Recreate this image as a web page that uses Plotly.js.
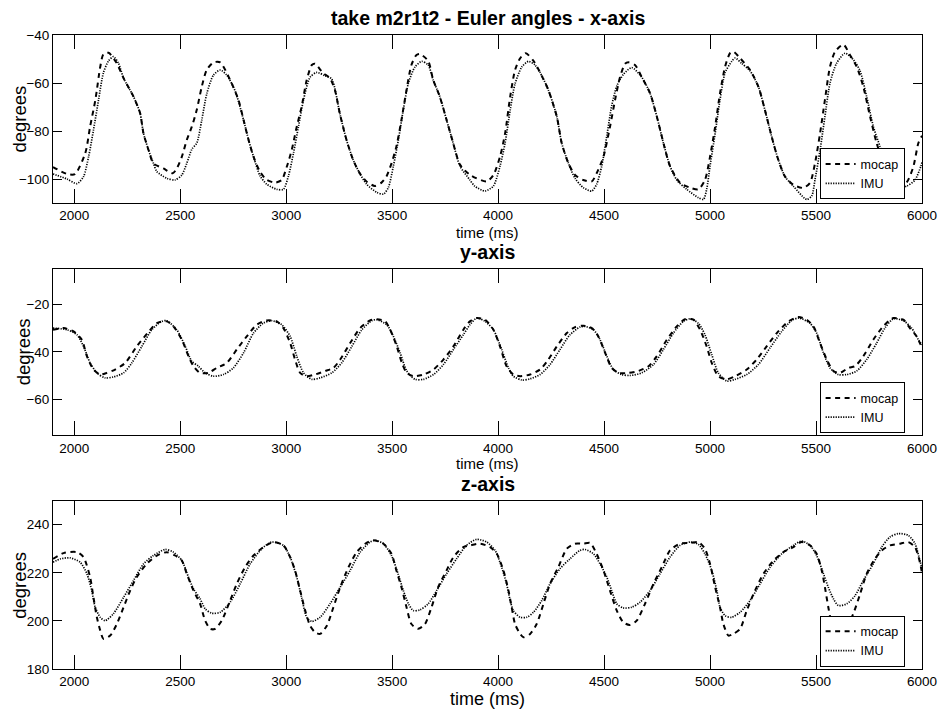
<!DOCTYPE html>
<html>
<head>
<meta charset="utf-8">
<script src="https://cdn.plot.ly/plotly-3.0.1.min.js"></script>
<style>html,body{margin:0;padding:0;background:#fff;}#chart{width:938px;height:713px;}</style>
</head>
<body>
<div id="chart"></div>
<script>
// ---------- data ----------
var seriesNames = ["mocap", "IMU"];
var xTickVals = [2000, 2500, 3000, 3500, 4000, 4500, 5000, 5500, 6000];

// x-axis Euler angle
var xMocapT = [1900,1966,2003,2052,2075,2100,2123,2138,2162,2201,2233,2280,2311,2327,2351,2374,2421,2465,2484,2508,2531,2555,2578,2602,2625,2657,2689,2736,2775,2799,2823,2846,2877,2909,2948,2979,3003,3026,3050,3073,3097,3121,3136,3175,3206,3230,3253,3285,3316,3347,3379,3418,3450,3473,3497,3520,3544,3568,3591,3615,3631,3670,3694,3725,3757,3788,3820,3868,3947,3978,4009,4033,4057,4080,4104,4131,4167,4198,4237,4277,4300,4332,4363,4402,4442,4465,4497,4528,4552,4575,4599,4615,4646,4678,4717,4749,4780,4811,4858,4906,4945,4976,5000,5024,5047,5071,5094,5110,5142,5189,5228,5259,5291,5322,5354,5393,5440,5472,5495,5519,5542,5566,5590,5629,5660,5692,5723,5755,5786,5820,5860,5895,5927,5959,5983,6000];
var xMocapV = [-95,-97.9,-98,-89.3,-78.2,-67,-53.2,-48,-47.4,-51.8,-58,-65.7,-72.6,-81,-88,-93.5,-95.6,-97.6,-95.6,-90.7,-83.8,-78.2,-71.3,-61.5,-54.6,-51.4,-51.4,-58.8,-67,-75.4,-83.8,-90.7,-97,-100.4,-101.5,-100.4,-94.9,-88,-78.2,-69.9,-58.8,-52.5,-52,-55.9,-57.9,-62.9,-72.6,-83.8,-92,-97.6,-101,-102.9,-101.5,-99,-93.5,-86.5,-75.4,-62.9,-52.5,-48.3,-47.9,-50.8,-58.8,-65.7,-75.4,-85,-94,-98.3,-101,-98.3,-90.7,-81,-65.7,-54.6,-49.7,-47.6,-50.8,-55.6,-62.9,-74,-85,-93.5,-98.3,-100.4,-101,-97.6,-90.7,-78.2,-67,-57.6,-52,-51.4,-52.5,-57.6,-64.3,-74,-85,-94.6,-101.5,-103.6,-104.3,-100.4,-90.7,-78.2,-64.3,-53.2,-47.6,-46.9,-49.7,-54.6,-61.5,-71.3,-82.4,-92,-99,-102.4,-103.7,-101.5,-93.5,-81,-67,-53.2,-46.9,-44,-48.3,-53.2,-61.5,-74,-85,-94,-100.5,-103,-101.5,-94.9,-85,-82];
var xImuT = [1900,1966,2013,2044,2068,2091,2115,2138,2162,2185,2209,2233,2280,2311,2327,2351,2374,2390,2437,2476,2508,2531,2555,2579,2602,2626,2657,2689,2720,2760,2799,2823,2846,2877,2909,2956,2987,3011,3035,3058,3082,3113,3145,3184,3215,3253,3285,3316,3347,3380,3428,3459,3482,3506,3530,3553,3577,3608,3640,3670,3694,3725,3757,3788,3820,3867,3890,3939,3978,4009,4033,4057,4080,4112,4143,4174,4198,4237,4277,4300,4332,4363,4402,4442,4465,4489,4513,4536,4560,4591,4631,4678,4717,4749,4780,4811,4843,4890,4945,4969,4984,5000,5024,5047,5071,5102,5118,5149,5189,5228,5259,5291,5322,5354,5393,5456,5480,5495,5519,5542,5566,5597,5637,5676,5708,5739,5770,5802,5840,5880,5927,5967,5995,6000];
var xImuV = [-97.9,-100,-101.9,-99,-90.7,-79.6,-67,-55.7,-50.8,-49,-51.8,-58,-65.7,-72.6,-81,-88,-93.5,-96.9,-99.7,-100.4,-98.3,-93.5,-87.6,-84.9,-75.4,-64.3,-56.7,-54.6,-56.7,-63.5,-75.4,-83.8,-90.7,-98.7,-102.2,-104.3,-104.3,-98.7,-89,-78.2,-67,-57.6,-55.6,-57,-58.3,-72.6,-83.8,-92,-97.6,-102.2,-105.6,-106.3,-103.6,-94.6,-83.5,-71,-60,-53.3,-51,-52.5,-58.8,-65.7,-75.4,-85,-94.6,-100.4,-103,-105,-102.9,-94.6,-85,-71.3,-60.3,-53.3,-51,-52.5,-55.6,-62.9,-74,-85,-93.5,-99.7,-103.6,-105,-102.2,-94.6,-82,-69.5,-61.3,-56.4,-53.6,-57.6,-64.3,-74,-85,-94.6,-100.4,-104.3,-107.8,-108.5,-104.3,-94.6,-81,-67,-55.7,-51,-49.6,-51.8,-55,-61.5,-71.3,-82.4,-92,-99,-103,-108.5,-107,-100.4,-88,-74,-60,-51.8,-47.6,-50.3,-55,-65.7,-78,-86.5,-96,-104,-103,-100.4,-94.6,-93];

// y-axis Euler angle
var yMocapT = [1900,1950,1997,2036,2060,2091,2123,2154,2193,2241,2295,2346,2390,2437,2468,2508,2539,2563,2594,2633,2673,2720,2767,2814,2861,2909,2956,2987,3019,3042,3066,3097,3136,3184,3223,3255,3302,3349,3396,3428,3467,3491,3522,3546,3569,3601,3648,3695,3742,3789,3836,3867,3899,3939,3978,4009,4040,4072,4104,4151,4198,4237,4277,4324,4363,4402,4442,4473,4505,4536,4568,4615,4662,4710,4749,4796,4843,4882,4922,4953,4984,5008,5039,5079,5118,5173,5220,5267,5315,5370,5417,5456,5488,5519,5551,5582,5613,5653,5684,5723,5770,5810,5849,5865,5912,5943,5975,5990,6000];
var yMocapV = [-30.7,-30,-31.4,-34.9,-41.8,-47.4,-49.5,-48.8,-47.4,-44.6,-37.7,-32.1,-27.9,-27.2,-29.3,-34.9,-41.8,-46,-48.8,-48.8,-46.7,-44.6,-39,-33.5,-28.6,-26.8,-27.2,-30,-36.3,-43.2,-48.8,-50.2,-49.5,-48,-46.7,-43.2,-36.3,-30,-26.8,-26.3,-27.2,-30.7,-37.7,-44.6,-48.8,-50.2,-49.5,-47.4,-43.2,-37.7,-30.7,-27.2,-25.8,-26.5,-30.7,-37.7,-46,-49.5,-50.2,-49.5,-47.4,-43.2,-37.7,-32.1,-29.6,-29,-30,-33.5,-40.4,-46.7,-48.8,-48.8,-48,-46,-41.8,-34.9,-29.3,-26.3,-26.5,-30.7,-37.7,-44.6,-50.2,-51.5,-50.2,-47.4,-43.2,-37.7,-32.1,-27.2,-25.4,-26.5,-29.3,-36.3,-43.2,-48,-48.8,-46.7,-46,-41.8,-34.9,-30,-26.5,-25.8,-26.5,-30,-33.5,-36.3,-38];
var yImuT = [1900,1966,2013,2044,2075,2107,2146,2185,2233,2272,2319,2366,2413,2437,2484,2524,2555,2586,2618,2657,2704,2751,2799,2846,2893,2932,2979,3019,3050,3082,3121,3160,3215,3262,3310,3357,3404,3428,3475,3506,3538,3569,3608,3648,3695,3742,3789,3836,3867,3899,3939,3978,4017,4049,4072,4112,4151,4198,4245,4292,4339,4386,4410,4450,4481,4513,4544,4583,4622,4678,4733,4780,4827,4874,4906,4945,4976,5008,5039,5079,5118,5173,5228,5283,5338,5385,5420,5472,5503,5535,5566,5605,5645,5692,5739,5786,5825,5865,5912,5951,5983,6000];
var yImuV = [-30,-30.7,-32.8,-37.7,-44.6,-48.8,-50.9,-50.5,-48.8,-44.6,-37.7,-30.7,-27.2,-26.9,-30.7,-37.7,-44,-46,-48.8,-50.2,-49.5,-46.7,-40.4,-32.1,-27.9,-26.9,-28.6,-33.5,-41.8,-48.8,-51.5,-50.9,-48.8,-44.6,-37.7,-30.7,-26.9,-26.5,-28.6,-33.5,-40.4,-48,-51.5,-51.5,-49.5,-45.3,-39,-32.8,-28.6,-25.8,-27.2,-30.7,-39,-46.7,-50.2,-51.8,-51.3,-49.5,-45.3,-39,-32.8,-29.6,-29.3,-30.7,-34.9,-41.8,-47.4,-49.5,-49.9,-48.8,-45.3,-39,-32.1,-27.2,-26.1,-28,-32.8,-41.1,-48.8,-52.2,-51.5,-49.5,-45.3,-38.3,-31.4,-26.8,-25.8,-28,-32.1,-40.4,-46.7,-49.5,-49.5,-48,-43.2,-36.3,-30,-26.1,-26.9,-30,-34.9,-37];

// z-axis Euler angle
var zMocapT = [1900,1950,2013,2044,2075,2091,2107,2123,2138,2170,2201,2233,2264,2295,2342,2390,2437,2476,2508,2531,2563,2594,2618,2642,2665,2696,2736,2767,2806,2846,2893,2940,2987,3019,3042,3066,3090,3113,3136,3160,3192,3223,3255,3294,3333,3373,3412,3459,3497,3520,3544,3568,3591,3623,3655,3686,3717,3757,3789,3836,3868,3915,3962,3994,4025,4049,4064,4080,4104,4120,4151,4182,4214,4245,4284,4324,4363,4402,4434,4465,4497,4528,4560,4591,4622,4654,4693,4733,4772,4811,4858,4906,4945,4976,5000,5024,5047,5063,5087,5110,5142,5173,5212,5252,5299,5346,5393,5432,5472,5503,5527,5542,5558,5574,5590,5615,5645,5676,5708,5739,5778,5810,5849,5896,5935,5967,5990,6000];
var zMocapV = [225.8,228.2,228.6,226.5,218.2,209.8,201.5,196,192.5,193.9,198.7,205.7,212.6,218.2,223.7,227.2,228.6,227.2,225.1,219.6,212.6,207.1,200.1,196.7,196.7,200.1,208.5,215.4,222.3,227.2,230.7,232.8,231.4,226.5,221,212.6,204.3,198,195.3,194.6,198,205.7,214,222.3,228.6,232.1,233.5,232.1,227.9,221,214,205.7,198.7,196.7,198.7,205.7,214,221,226.5,230.7,231.4,232.1,230.7,227.9,221,212.6,205.7,198.7,194.6,193.2,194.6,198.7,207.1,215.4,222.3,230,232.1,232.1,232.4,227.9,221,212.6,204.3,199.4,198.3,200.1,207.1,215.4,222.3,229.3,232.1,232.4,232.8,230,223.7,214,205.7,198.7,193.9,194.6,196.7,204.3,212.6,219.6,225.1,228.6,230.7,232.8,231.4,227.9,221,214,205.7,198.7,195,193,197.4,203,211.2,219.6,225.8,229.3,231.4,232.1,232.8,230.7,224.4,220];
var zImuT = [1900,1935,1981,2028,2060,2083,2099,2123,2146,2185,2233,2280,2327,2374,2429,2468,2508,2539,2563,2594,2618,2649,2689,2736,2783,2830,2885,2932,2987,3019,3050,3073,3097,3121,3160,3207,3255,3302,3349,3396,3420,3459,3497,3528,3553,3577,3600,3631,3670,3710,3757,3804,3851,3899,3946,3986,4017,4040,4057,4072,4104,4135,4167,4206,4245,4292,4339,4386,4410,4450,4481,4513,4536,4560,4591,4631,4670,4717,4764,4811,4858,4906,4945,4976,5008,5032,5047,5071,5102,5142,5189,5236,5283,5338,5393,5432,5472,5503,5535,5558,5582,5605,5645,5684,5723,5770,5810,5849,5888,5935,5967,5990,6000];
var zImuV = [224.4,225.8,226.2,224.4,219.6,212.6,205.7,201.5,200.1,203,209.8,216.8,223.7,227.2,229.7,228.6,225.1,218.2,213.3,209.2,205,203.2,203.6,207.8,215.4,223.7,230,232.8,231.4,226.5,218.2,209.8,201.5,199.8,201.5,207.1,214,221,228.6,232.8,233.5,232.1,227.2,219.6,212.6,207.1,204.3,204.6,207.1,212.6,219.6,225.8,231.4,233.9,232.8,229.3,222.3,215.4,208.5,204.3,201.5,201.5,203.6,208.5,215.4,221.7,225.8,229.3,229.7,227.9,223.7,218.2,212.6,207.1,205.4,205.7,207.8,212.6,219.6,226.5,231.4,232.8,231.8,227.9,221,212.6,205.7,202.2,201.5,203.6,208.5,215.4,222.3,227.9,231.4,233.2,231.4,227.2,219.6,214,209.2,206.4,207.1,210.5,216.8,223.7,230.7,234.9,236.3,235.6,232.1,225.1,222];

// ---------- styles ----------
var FONT = "Liberation Sans, Arial, Helvetica, sans-serif";
var mocapLine = {color: "#000", width: 2, dash: "5px,4.5px", shape: "spline", smoothing: 0.7};
var imuLine = {color: "#000", width: 1.7, dash: "1.2px,1.3px", shape: "spline", smoothing: 0.7};

function tr(t, v, name, line, xa, ya, lg) {
  return {x: t, y: v, name: name, type: "scatter", mode: "lines", line: line,
          xaxis: xa, yaxis: ya, legend: lg, hoverinfo: "skip"};
}
var traces = [
  tr(xMocapT, xMocapV, seriesNames[0], mocapLine, "x", "y", "legend"),
  tr(xImuT, xImuV, seriesNames[1], imuLine, "x", "y", "legend"),
  tr(yMocapT, yMocapV, seriesNames[0], mocapLine, "x2", "y2", "legend2"),
  tr(yImuT, yImuV, seriesNames[1], imuLine, "x2", "y2", "legend2"),
  tr(zMocapT, zMocapV, seriesNames[0], mocapLine, "x3", "y3", "legend3"),
  tr(zImuT, zImuV, seriesNames[1], imuLine, "x3", "y3", "legend3")
];

function xax(anchor) {
  return {anchor: anchor, range: [1900, 6000], tickmode: "array", tickvals: xTickVals,
          ticks: "inside", ticklen: 14, tickcolor: "#000", tickwidth: 1,
          showline: true, linecolor: "#000", linewidth: 1, mirror: "ticks",
          showgrid: false, zeroline: false, tickfont: {family: FONT, size: 13.5, color: "#000"}};
}
function yax(anchor, range, dom) {
  return {anchor: anchor, domain: dom, range: range, dtick: 20, tick0: 0,
          ticks: "inside", ticklen: 9, tickcolor: "#000", tickwidth: 1,
          showline: true, linecolor: "#000", linewidth: 1, mirror: "ticks",
          showgrid: false, zeroline: false, tickfont: {family: FONT, size: 13.5, color: "#000"}};
}
function legendBox(y) {
  return {x: 0.98, xanchor: "right", y: y, yanchor: "middle", bgcolor: "#fff",
          bordercolor: "#000", borderwidth: 1, font: {family: FONT, size: 12.5, color: "#000"},
          tracegroupgap: 0};
}
function ann(text, x, y, size, bold, angle) {
  return {text: bold ? "<b>" + text + "</b>" : text, xref: "paper", yref: "paper", x: x, y: y,
          xanchor: "center", yanchor: "middle", showarrow: false, textangle: angle || 0,
          font: {family: FONT, size: size, color: "#000"}};
}

var layout = {
  width: 938, height: 713,
  margin: {l: 53, r: 16, t: 35, b: 44},
  paper_bgcolor: "#fff", plot_bgcolor: "#fff",
  font: {family: FONT, color: "#000"},
  showlegend: true,
  xaxis: xax("y"), xaxis2: xax("y2"), xaxis3: xax("y3"),
  yaxis: yax("x", [-110, -40], [0.735, 1]),
  yaxis2: yax("x2", [-75, -5], [0.3686, 0.6317]),
  yaxis3: yax("x3", [180, 250], [0, 0.2655]),
  legend: legendBox(0.7808),
  legend2: legendBox(0.412),
  legend3: legendBox(0.0438),
  annotations: [
    ann("take m2r1t2 - Euler angles - x-axis", 0.5, 1.0268, 19.5, true),
    ann("y-axis", 0.5, 0.6577, 19.5, true),
    ann("z-axis", 0.5, 0.2918, 19.5, true),
    ann("time (ms)", 0.5, 0.6877, 15, false),
    ann("time (ms)", 0.5, 0.3249, 15, false),
    ann("time (ms)", 0.5, -0.0473, 18, false),
    ann("degrees", -0.0389, 0.867, 18.5, false, -90),
    ann("degrees", -0.0342, 0.5, 18.5, false, -90),
    ann("degrees", -0.038, 0.1327, 18.5, false, -90)
  ]
};

Plotly.newPlot("chart", traces, layout, {displayModeBar: false, staticPlot: true});
</script>
</body>
</html>
